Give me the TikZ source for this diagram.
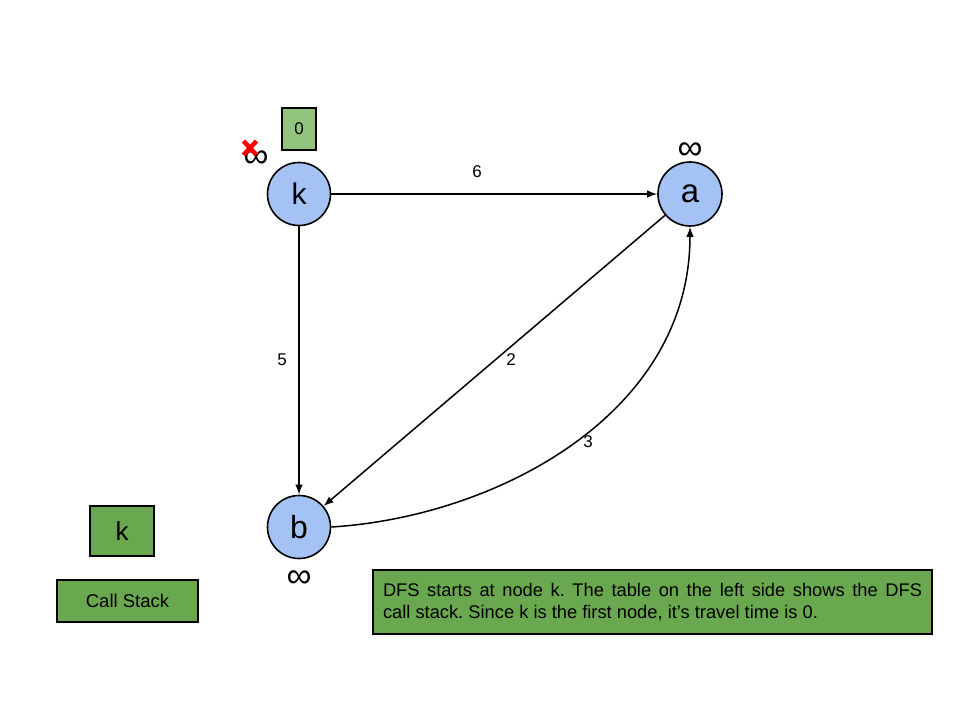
\documentclass[tikz,border=0pt]{standalone}
\usepackage{fontspec}
\setmainfont{Liberation Sans}
\usetikzlibrary{arrows.meta,calc}
\definecolor{nodeblue}{HTML}{A4C2F4}
\definecolor{darkgreen}{HTML}{6AA84F}
\definecolor{lightgreen}{HTML}{93C47D}
\frenchspacing
\begin{document}
\begin{tikzpicture}[x=1pt,y=-1pt,
  vert/.style={circle,draw=black,line width=1.6pt,fill=nodeblue,minimum size=63pt,inner sep=0pt},
  edge/.style={line width=1.5pt,-{Latex[length=10pt,width=7.5pt]}},
  elabel/.style={font=\fontsize{17}{19}\selectfont,inner sep=0pt},
  inflab/.style={font=\fontsize{35}{37}\selectfont,inner sep=0pt},
  greenbox/.style={draw=black,line width=1.5pt,fill=darkgreen,inner sep=0pt}]
\useasboundingbox (0,0) rectangle (960,720);
\fill[white] (0,0) rectangle (960,720);
% nodes
\node[vert,font=\fontsize{30}{32}\selectfont] (k) at (299,194) {k};
\node[vert,minimum size=64pt,font=\fontsize{33}{35}\selectfont] (a) at (690,194) {a};
\node[vert,font=\fontsize{32}{34}\selectfont] (b) at (299,527) {b};
% distance labels
\node[draw=black,line width=1.5pt,fill=lightgreen,minimum width=34pt,minimum height=42pt,inner sep=0pt,font=\fontsize{17}{19}\selectfont] (zero) at (299,129) {0};
\node[inflab] (infk) at (256,159) {∞};
\node[inflab] (infa) at (690,151) {∞};
\node[inflab] (infb) at (299,579) {∞};
\coordinate (xc) at (250,148);
\draw[red,line width=4.5pt] ($(xc)+(-6.5,-7)$) -- ($(xc)+(6.5,7)$);
\draw[red,line width=4.5pt] ($(xc)+(6.5,-7)$) -- ($(xc)+(-6.5,7)$);
% edges
\draw[edge] (k) -- (a);
\node[elabel] (l6) at (477,172) {6};
\draw[edge] (k) -- (b);
\node[elabel] (l5) at (282,360) {5};
\draw[edge] (a) -- (b);
\node[elabel] (l2) at (511,360) {2};
\draw[edge] (b.east) .. controls (495,517) and (690,415) .. (a.south);
\node[elabel] (l3) at (588,442) {3};
% call stack
\node[greenbox,minimum width=64pt,minimum height=50pt,font=\fontsize{26}{28}\selectfont] (ks) at (122,531) {k};
\node[greenbox,minimum width=141pt,minimum height=42pt,font=\fontsize{18.5}{20}\selectfont] (cs) at (127.5,601) {Call Stack};
% description
\node[greenbox,minimum width=559pt,minimum height=64pt,text width=539pt,align=justify,font=\fontsize{18.3}{22}\selectfont] (desc) at (652.5,602) {DFS starts at node k. The table on the left side shows the DFS\linebreak call stack. Since k is the first node, it’s travel time is 0.};
\end{tikzpicture}
\end{document}
